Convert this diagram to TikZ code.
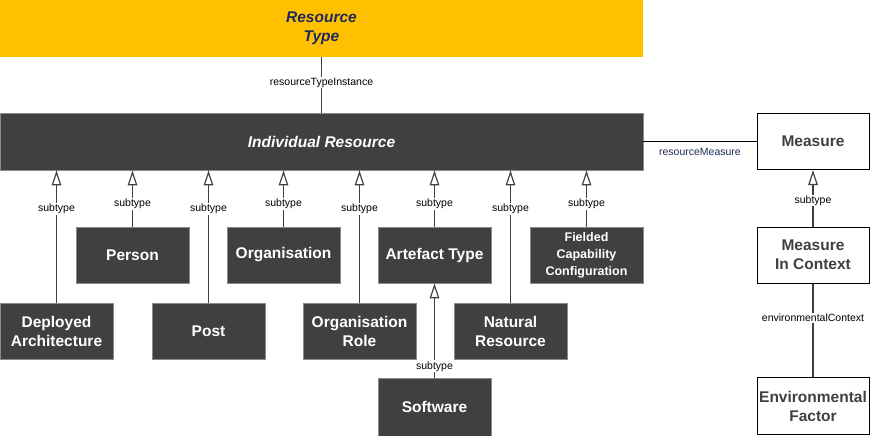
\documentclass[tikz,border=0pt]{standalone}
\usepackage{fontspec}
\setmainfont{Liberation Sans}
\usetikzlibrary{arrows.meta}
\definecolor{boxgrey}{HTML}{404040}
\definecolor{edgegrey}{HTML}{8A8A8A}
\definecolor{gold}{HTML}{FFC000}
\definecolor{navy}{HTML}{1F2A5C}
\tikzset{
  darkbox/.style={draw=edgegrey, fill=boxgrey, text=white, line width=0.8pt,
    minimum width=113pt, minimum height=56pt, align=center, inner sep=2pt,
    font=\bfseries\fontsize{15.5}{19}\selectfont},
  whitebox/.style={draw=black, fill=white, text=boxgrey, line width=1pt,
    minimum width=112pt, minimum height=56pt, align=center, inner sep=2pt,
    font=\bfseries\fontsize{15.5}{19}\selectfont},
  lbl/.style={fill=white, inner sep=1pt, text=black, font=\fontsize{10.5}{12}\selectfont},
  link/.style={draw=boxgrey, line width=1.2pt},
  gen/.style={link, -{Triangle[open, length=15pt, width=9.5pt]}}
}
\begin{document}
\begin{tikzpicture}[x=1pt, y=-1pt]
  \useasboundingbox (0,0) rectangle (871,436);
  % top level
  \node[darkbox, draw=none, fill=gold, text=navy, minimum width=643pt, minimum height=57pt,
        font=\bfseries\itshape\fontsize{15.5}{19}\selectfont] (rtype) at (321.5,28.5) {Resource\\Type};
  \node[darkbox, minimum width=643pt, minimum height=57pt,
        font=\bfseries\itshape\fontsize{15.5}{19}\selectfont] (indiv) at (321.5,141.5) {Individual Resource};
  \draw[link] (rtype.south) -- (indiv.north) node[lbl, pos=0.46] {resourceTypeInstance};
  % first row of subtypes
  \node[darkbox] (person) at (132.5,255) {Person};
  \node[darkbox] (org) at (283.5,255) {Organisation};
  \node[darkbox] (artefact) at (434.5,255) {Artefact Type};
  \node[darkbox, font=\bfseries\fontsize{12.5}{17}\selectfont] (fcc) at (586.5,255) {Fielded\\Capability\\Configuration};
  % second row of subtypes
  \node[darkbox] (deployed) at (56.5,331) {Deployed\\Architecture};
  \node[darkbox] (post) at (208.5,331) {Post};
  \node[darkbox] (orgrole) at (359.5,331) {Organisation\\Role};
  \node[darkbox] (natural) at (510.5,331) {Natural\\Resource};
  \node[darkbox, minimum height=58pt] (software) at (434.5,407) {Software};
  % subtype links to individual resource
  \foreach \sub in {person, org, artefact, fcc}
    \draw[gen] (\sub.north) -- (\sub.north |- indiv.south) node[lbl, pos=0.4] {subtype};
  \foreach \sub in {deployed, post, orgrole, natural}
    \draw[gen] (\sub.north) -- (\sub.north |- indiv.south) node[lbl, pos=0.71] {subtype};
  \draw[gen] (software.north) -- (artefact.south) node[lbl, pos=0.12] {subtype};
  % measures
  \node[whitebox] (measure) at (813,141.5) {Measure};
  \node[whitebox] (mic) at (813,255) {Measure\\In Context};
  \node[whitebox, minimum height=57pt] (envf) at (813,406) {Environmental\\Factor};
  \draw[link, draw=black] (indiv.east) -- (measure.west)
    node[midway, below=5pt, inner sep=1pt, text=navy, font=\fontsize{10.5}{12}\selectfont] {resourceMeasure};
  \draw[gen] (mic.north) -- (measure.south) node[lbl, pos=0.46] {subtype};
  \draw[link] (mic.south) -- (envf.north) node[lbl, pos=0.37] {environmentalContext};
\end{tikzpicture}
\end{document}
